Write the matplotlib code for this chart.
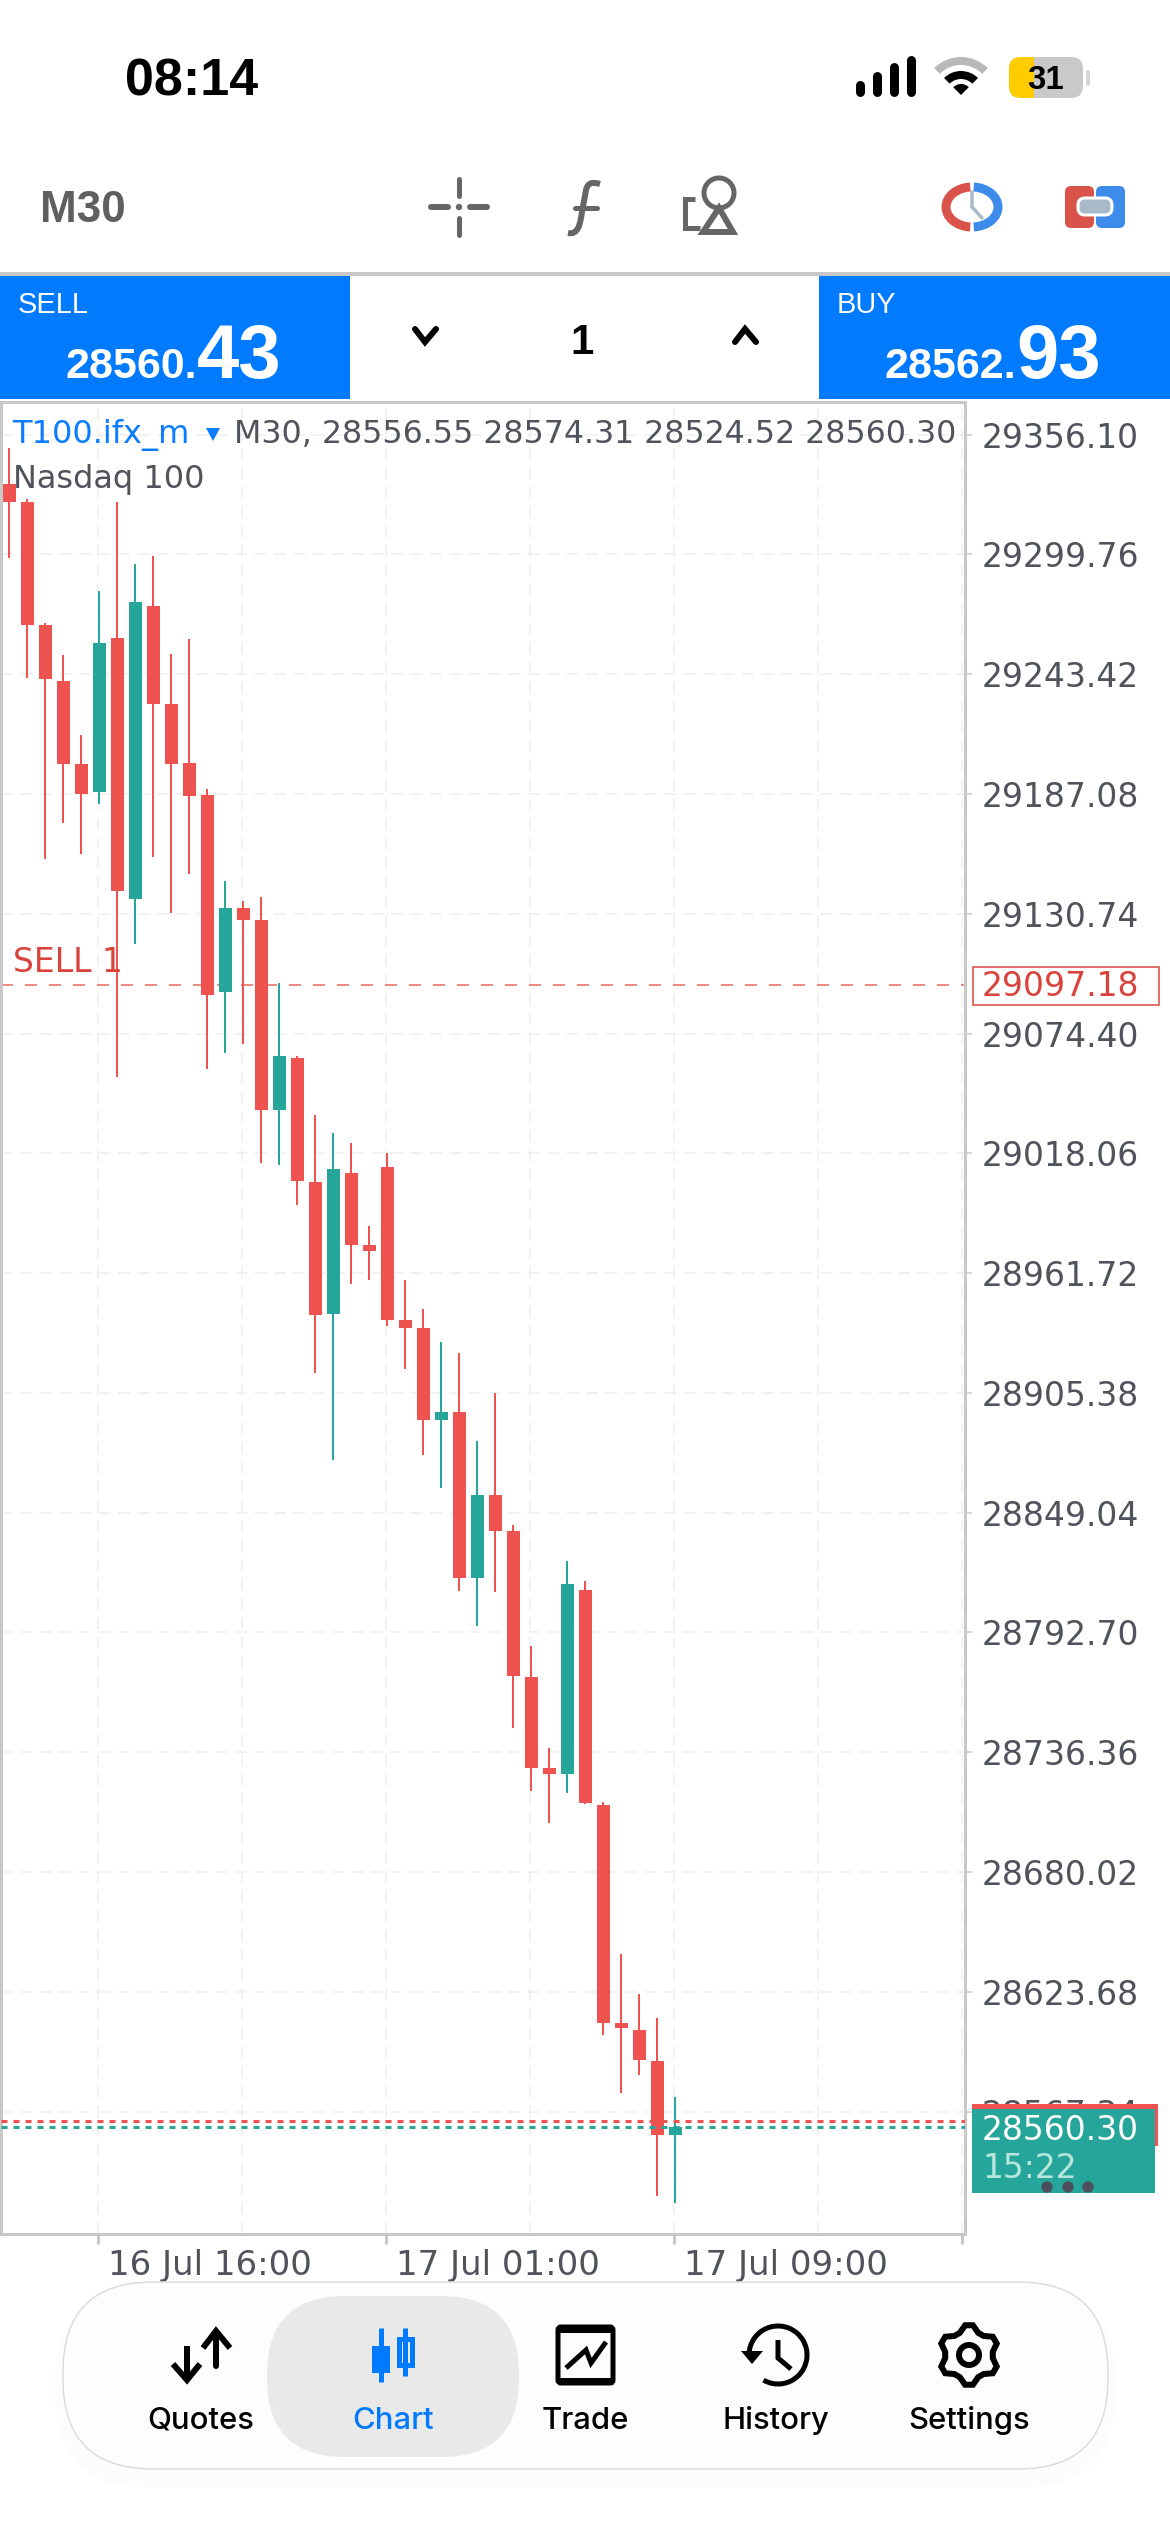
import numpy as np
import matplotlib
matplotlib.use('Agg')
import matplotlib.pyplot as plt
from matplotlib.patches import Rectangle, FancyBboxPatch, Wedge, Arc, Circle, Polygon, PathPatch
from matplotlib.path import Path
from matplotlib.transforms import ScaledTranslation

# candles
opens = [29332.8, 29324.4, 29266.5, 29240.2, 29201.2, 29188.0, 29260.4, 29137.8, 29275.5, 29229.5,
         29201.6, 29186.5, 29094.1, 29133.4, 29127.7, 29038.4, 29062.8, 29004.4, 28942.5, 29009.0,
         28974.8, 29011.6, 28939.5, 28935.8, 28892.7, 28896.3, 28818.4, 28857.2, 28840.2, 28771.9,
         28729.1, 28726.2, 28812.8, 28711.6, 28609.0, 28605.9, 28591.2, 28556.55]
highs = [29349.6, 29325.7, 29267.3, 29252.2, 29214.8, 29282.4, 29324.4, 29295.0, 29298.8, 29253.0,
         29260.0, 29189.6, 29146.0, 29136.7, 29138.6, 29098.1, 29063.6, 29036.3, 29027.5, 29022.7,
         28984.1, 29018.3, 28958.7, 28944.8, 28929.3, 28924.0, 28882.6, 28905.5, 28843.4, 28786.3,
         28738.6, 28826.3, 28817.1, 28712.9, 28641.6, 28622.7, 28611.3, 28574.31]
lows = [29297.8, 29241.7, 29156.7, 29173.5, 29158.6, 29182.3, 29054.0, 29116.6, 29157.5, 29131.3,
        29149.5, 29057.8, 29065.1, 29069.6, 29013.4, 29012.4, 28993.9, 28914.6, 28873.8, 28956.8,
        28958.4, 28937.0, 28916.4, 28876.3, 28860.6, 28812.3, 28795.9, 28811.9, 28747.8, 28718.3,
        28703.3, 28717.0, 28711.8, 28603.6, 28575.9, 28584.5, 28527.6, 28524.52]
closes = [29324.4, 29266.7, 29241.3, 29201.2, 29186.9, 29258.1, 29141.6, 29277.4, 29229.5, 29201.2,
          29186.3, 29092.6, 29133.4, 29127.7, 29038.4, 29063.9, 29005.0, 28942.1, 29010.9, 28975.0,
          28972.3, 28939.8, 28936.0, 28892.7, 28896.3, 28818.4, 28857.2, 28840.4, 28772.1, 28729.1,
          28726.0, 28815.5, 28712.3, 28609.2, 28606.5, 28591.5, 28556.2, 28560.30]

price_ticks = [29356.10, 29299.76, 29243.42, 29187.08, 29130.74, 29074.40, 29018.06, 28961.72,
               28905.38, 28849.04, 28792.70, 28736.36, 28680.02, 28623.68, 28567.34]
price_labels = ['29356.10', '29299.76', '29243.42', '29187.08', '29130.74', '29074.40', '29018.06',
                '28961.72', '28905.38', '28849.04', '28792.70', '28736.36', '28680.02', '28623.68', '28567.34']
time_ticks = [4.95, 20.95, 36.95, 52.95]
time_labels = ['16 Jul 16:00', '17 Jul 01:00', '17 Jul 09:00', '']
time_grid = [4.95, 12.95, 20.95, 28.95, 36.95, 44.95, 52.95]
sell_price = 29097.18
bid = 28560.30
ask = 28562.93
price_min, price_max = 28509.8, 29371.4

RED = '#ef5350'
GREEN = '#26a69a'
BLUE = '#007aff'
TXT = '#50525c'
EDGE = '#c8c8c8'
GRID = '#eeeeee'
PX = 0.72  # points per pixel at dpi 100
FONT = 'DejaVu Sans'
BOLD = 'Liberation Sans'

fig = plt.figure(figsize=(11.7, 25.32), dpi=100, facecolor='white')

# chart, x index: one candle = 18 px
W, H = 1170, 2532
ax = fig.add_axes([1 / W, 1 - 2234 / H, 964 / W, 1832 / H])
ax.set_xlim((1 - 9.3) / 18, (965 - 9.3) / 18)
ax.set_ylim(price_min, price_max)
for s in ax.spines.values():
    s.set_color(EDGE)
    s.set_linewidth(3 * PX)

ax.set_yticks(price_ticks)
ax.set_yticklabels(price_labels)
ax.yaxis.tick_right()
ax.tick_params(axis='y', length=7 * PX, width=1.5 * PX, color=EDGE, pad=10 * PX, labelsize=33 * PX,
               labelcolor=TXT)
ax.set_xticks(time_ticks)
ax.set_xticklabels(time_labels, ha='left')
ax.tick_params(axis='x', length=10 * PX, width=3 * PX, color=EDGE, pad=5 * PX, labelsize=34 * PX,
               labelcolor=TXT)
offset = ScaledTranslation(10 / 100, 0, fig.dpi_scale_trans)
for lab in ax.get_xticklabels():
    lab.set_transform(lab.get_transform() + offset)

ax.hlines(price_ticks, *ax.get_xlim(), color=GRID, lw=1.5 * PX, linestyles=(0, (8, 5)), zorder=1)
ax.vlines(time_grid, price_min, price_max, color=GRID, lw=1.5 * PX, linestyles=(0, (8, 5)), zorder=1)

ax.axhline(sell_price, color='#e2665f', lw=1.5 * PX, dashes=(8, 8), zorder=1.5)
ax.text(0.22, sell_price + 10.4, 'SELL 1', color='#d9433b', fontsize=33 * PX, family=FONT, va='center')

x = np.arange(len(opens))
colors = [GREEN if c > o else RED for o, c in zip(opens, closes)]
ax.vlines(x, lows, highs, color=colors, lw=2 * PX, zorder=2)
ax.bar(x, np.abs(np.array(closes) - np.array(opens)), bottom=np.minimum(opens, closes), width=13 / 18,
       color=colors, zorder=3)

ax.axhline(ask, color=RED, lw=3 * PX, dashes=(2, 2), zorder=4)
ax.axhline(bid, color=GREEN, lw=3 * PX, dashes=(2, 2), zorder=4)

# everything else sits on a pixel overlay
ui = fig.add_axes([0, 0, 1, 1], facecolor='none')
ui.set_xlim(0, W)
ui.set_ylim(H, 0)
ui.axis('off')


def rrect(x0, y0, x1, y1, r, **kw):
    p = FancyBboxPatch((x0 + r, y0 + r), x1 - x0 - 2 * r, y1 - y0 - 2 * r,
                       boxstyle='round,pad=%f,rounding_size=%f' % (r, r), **kw)
    ui.add_patch(p)
    return p


def line(xs, ys, color, lw, cap='round'):
    ui.plot(xs, ys, color=color, lw=lw * PX, solid_capstyle=cap, solid_joinstyle='miter')


# status bar
ui.text(125, 96, '08:14', fontsize=52 * PX, fontweight='bold', family=BOLD, va='baseline')
for bx, top in zip([860, 877, 894, 911], [85, 76, 67, 60]):
    line([bx, bx], [top, 92], 'black', 9)
ui.add_patch(Wedge((961, 95), 38, 225, 315, width=8, color='#b9b9b9', lw=0))
ui.add_patch(Wedge((961, 95), 24, 225, 315, width=8, color='black', lw=0))
ui.add_patch(Wedge((961, 95), 11, 225, 315, color='black', lw=0))
rrect(1009, 57, 1083, 98, 12, fc='#c9c9c9', ec='none')
rrect(1009, 57, 1042, 98, 12, fc='#ffcc00', ec='none')
ui.add_patch(Rectangle((1030, 57), 4, 41, fc='#ffcc00', ec='none'))
ui.add_patch(Rectangle((1034, 57), 9, 41, fc='#c9c9c9', ec='none'))
line([1088, 1088], [72, 84], '#d6d6d6', 4)
ui.text(1046, 89, '31', fontsize=33 * PX, fontweight='bold', family=BOLD, ha='center', va='baseline')

# toolbar
GRAY = '#666666'
ui.text(40, 222, 'M30', fontsize=44 * PX, fontweight='bold', family=BOLD, color='#5f5f5f', va='baseline')
line([459, 459], [179, 196], GRAY, 5)
line([459, 459], [218, 235], GRAY, 5)
line([431, 448], [207, 207], GRAY, 6)
line([470, 487], [207, 207], GRAY, 6)
ui.add_patch(Circle((459, 207), 2.5, color=GRAY))
ui.add_patch(PathPatch(Path([(568, 233), (578, 235), (580, 225), (582, 212), (586, 190), (588, 182), (593, 182), (600, 184)],
                            [Path.MOVETO, Path.CURVE4, Path.CURVE4, Path.CURVE4, Path.LINETO, Path.CURVE4, Path.CURVE4, Path.CURVE4]),
                       fc='none', ec=GRAY, lw=6 * PX))
line([575, 597], [208, 208], GRAY, 5)
ui.add_patch(Circle((719, 193), 15, fc='none', ec=GRAY, lw=5 * PX))
ui.add_patch(Polygon([(719, 208), (703, 232), (733, 232)], fc='none', ec=GRAY, lw=6 * PX))
line([695, 685, 685, 700], [199, 199, 228, 228], GRAY, 5, 'butt')
ui.add_patch(Arc((972, 207), 52, 40, theta1=95, theta2=265, color='#d9534a', lw=9 * PX))
ui.add_patch(Arc((972, 207), 52, 40, theta1=-85, theta2=85, color='#3d8bea', lw=9 * PX))
line([972, 972, 982], [192, 207, 218], '#a9bbc9', 3.5)
rrect(1065, 186, 1094, 228, 6, fc='#d9534a', ec='none')
rrect(1096, 186, 1125, 228, 6, fc='#3d8bea', ec='none')
rrect(1078, 198, 1112, 215, 7, fc='#a9bbc9', ec='white', lw=3 * PX)

# sell / buy strip
ui.add_patch(Rectangle((0, 272), W, 4, fc=EDGE, ec='none'))
ui.add_patch(Rectangle((0, 276), 350, 123, fc=BLUE, ec='none'))
ui.add_patch(Rectangle((819, 276), 351, 123, fc=BLUE, ec='none'))
ui.text(18, 313, 'SELL', color='white', fontsize=29 * PX, family=BOLD, va='baseline')
ui.text(837, 313, 'BUY', color='white', fontsize=29 * PX, family=BOLD, va='baseline')
for lx, small, big in [(67, '28560.', '43'), (886, '28562.', '93')]:
    ui.text(lx + 130, 378, small, color='white', fontsize=43 * PX, fontweight='bold', family=BOLD, ha='right', va='baseline')
    ui.text(lx + 130, 378, big, color='white', fontsize=76 * PX, fontweight='bold', family=BOLD, ha='left', va='baseline')
line([415, 425, 436], [329, 342, 329], 'black', 6)
line([735, 745, 756], [342, 329, 342], 'black', 6)
ui.text(582, 354, '1', fontsize=42 * PX, fontweight='bold', family=BOLD, ha='center', va='baseline')

# chart header
ui.text(12, 443, 'T100.ifx_m', color='#0a7cff', fontsize=32 * PX, family=FONT, va='baseline')
ui.add_patch(Polygon([(206, 428), (220, 428), (213, 441)], fc='#0a7cff', ec='none'))
ui.text(234, 443, 'M30, 28556.55 28574.31 28524.52 28560.30', color=TXT, fontsize=31.6 * PX, family=FONT, va='baseline')
ui.text(13, 488, 'Nasdaq 100', color=TXT, fontsize=32 * PX, family=FONT, va='baseline')

# price boxes on the right
ui.add_patch(Rectangle((973, 967), 186, 38, fc='white', ec='#d9433b', lw=1.5 * PX))
ui.text(982, 986, '29097.18', color='#d9433b', fontsize=33 * PX, family=FONT, va='center')
ui.add_patch(Rectangle((972, 2104), 186, 42, fc=RED, ec='none'))
ui.add_patch(Rectangle((972, 2109), 183, 84, fc=GREEN, ec='none'))
ui.text(982, 2130, '28560.30', color='white', fontsize=33 * PX, family=FONT, va='center')
ui.text(982, 2168, '15:22', color='#b8e6dc', fontsize=33 * PX, family=FONT, va='center')
for dx in [1047, 1068, 1088]:
    ui.add_patch(Circle((dx, 2187), 5, color='#4b4f5c'))

# bottom tab bar
rrect(55, 2288, 1116, 2488, 95, fc='black', ec='none', alpha=0.012)
rrect(63, 2282, 1108, 2469, 90, fc='#fdfdfd', ec='#dcdcdc', lw=1.5 * PX)
rrect(267, 2296, 519, 2457, 78, fc='#e9e9e9', ec='none')
tab_x = [201, 393, 585, 776, 969]
tab_names = ['Quotes', 'Chart', 'Trade', 'History', 'Settings']
for tx, name in zip(tab_x, tab_names):
    ui.text(tx, 2429, name, color=BLUE if name == 'Chart' else 'black', fontsize=31 * PX, family='Inter',
            fontweight='medium', ha='center', va='baseline')
# quotes
line([187, 187], [2346, 2376], 'black', 6, 'butt')
line([173, 187, 200], [2364, 2380, 2364], 'black', 6, 'butt')
line([216, 216], [2332, 2366], 'black', 6)
line([203, 216, 230], [2348, 2331, 2348], 'black', 6, 'butt')
# chart
line([381, 381], [2328, 2382], BLUE, 5, 'butt')
ui.add_patch(Rectangle((372, 2346), 18, 27, fc=BLUE, ec='none'))
line([405, 405], [2328, 2376], BLUE, 5, 'butt')
ui.add_patch(Rectangle((399, 2339), 13, 26, fc='#e9e9e9', ec=BLUE, lw=5 * PX))
# trade
rrect(558, 2327, 613, 2383, 3, fc='none', ec='black', lw=5 * PX)
line([558, 613], [2329, 2329], 'black', 7, 'butt')
line([558, 613], [2381, 2381], 'black', 7, 'butt')
line([566, 586, 591, 606], [2368, 2350, 2363, 2342], 'black', 5, 'butt')
# history
ui.add_patch(Arc((778, 2355), 58, 58, theta1=180, theta2=480, color='black', lw=5 * PX))
ui.add_patch(Polygon([(741, 2351), (763, 2351), (752, 2364)], fc='black', ec='none'))
line([778, 778, 791], [2340, 2358, 2369], 'black', 5, 'butt')
# settings
ang = np.deg2rad(np.arange(0, 360, 15) - 97.5)
rad = np.array([30, 30, 24, 24] * 6)
ui.add_patch(Polygon(np.c_[969 + rad * np.cos(ang), 2355 + rad * np.sin(ang)], fc='none', ec='black', lw=6 * PX))
ui.add_patch(Circle((969, 2355), 10, fc='none', ec='black', lw=6 * PX))

fig.savefig('out.png', dpi=100)
